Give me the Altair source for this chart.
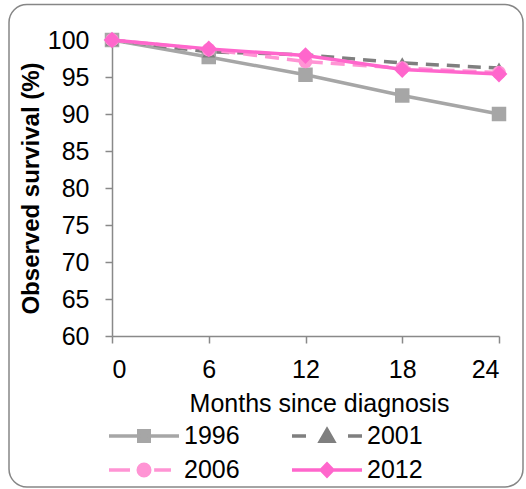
import altair as alt
import pandas as pd

# ---- data ----
MONTHS = [0, 6, 12, 18, 24]
SERIES = ["1996", "2001", "2006", "2012"]
S1996 = [100, 97.7, 95.3, 92.5, 90.0]
S2001 = [100, 98.4, 98.0, 96.9, 96.2]
S2006 = [100, 98.7, 97.1, 96.2, 95.6]
S2012 = [100, 98.8, 97.9, 96.0, 95.4]
Y_TICKS = [60, 65, 70, 75, 80, 85, 90, 95, 100]
X_TICKS = [0, 6, 12, 18, 24]

# ---- styles ----
COLORS = ["#A6A6A6", "#7F7F7F", "#FF94D4", "#FF66CC"]
DASHES = [None, [13, 8], [14, 8], None]
SHAPES = ["square", "triangle-up", "circle", "diamond"]
SIZES = [210, 170, 190, 280]
LEGEND_PATHS = [
    "M-1,0H1M-0.15,-0.15H0.15V0.15H-0.15Z",
    "M-1,0H-0.6M0.6,0H1M0,-0.18L0.19,0.15L-0.19,0.15Z",
    "M-1,0H-0.4M0.29,0H0.77M-0.165,0C-0.165,-0.091,-0.091,-0.165,0,-0.165"
    "C0.091,-0.165,0.165,-0.091,0.165,0C0.165,0.091,0.091,0.165,0,0.165"
    "C-0.091,0.165,-0.165,0.091,-0.165,0Z",
    "M-1,0H1M0,-0.17L0.165,0L0,0.17L-0.165,0Z",
]
FONT = "Liberation Sans"

values = {"1996": S1996, "2001": S2001, "2006": S2006, "2012": S2012}
df = pd.DataFrame(
    [{"series": s, "month": m, "value": v}
     for s in SERIES for m, v in zip(MONTHS, values[s])]
)

x = alt.X("month:Q",
          scale=alt.Scale(domain=[0, 24], nice=False, zero=False),
          axis=alt.Axis(values=X_TICKS, title="Months since diagnosis",
                        titleFontWeight="normal", titleFontSize=25,
                        titlePadding=9, titleX=207, labelPadding=14))
y = alt.Y("value:Q",
          scale=alt.Scale(domain=[60, 100], nice=False, zero=False),
          axis=alt.Axis(values=Y_TICKS, title="Observed survival (%)",
                        titleFontWeight="bold", titleFontSize=24,
                        titlePadding=4, labelPadding=16))

layers = []
for s, c, d, sh, sz in zip(SERIES, COLORS, DASHES, SHAPES, SIZES):
    sub = alt.Chart(df).transform_filter(alt.datum.series == s)
    line_kw = dict(color=c, strokeWidth=3.5)
    if d:
        line_kw["strokeDash"] = d
    layers.append(sub.mark_line(**line_kw).encode(x=x, y=y))
    layers.append(sub.mark_point(shape=sh, size=sz, filled=True, color=c,
                                 opacity=1).encode(x=x, y=y))

leg = alt.Legend(
    title=None, orient="none", legendX=-5, legendY=383, columns=2,
    direction="horizontal",
    symbolSize=4900, symbolStrokeWidth=3.5, symbolOpacity=1, symbolOffset=0,
    labelFontSize=25, labelFont=FONT, labelColor="black", labelOffset=3,
    clipHeight=26, rowPadding=8, columnPadding=50, padding=0,
)
legend_layer = alt.Chart(df).transform_filter("false").mark_point(
    filled=True, opacity=1, strokeWidth=3.5
).encode(
    x=x, y=y,
    color=alt.Color("series:N", scale=alt.Scale(domain=SERIES, range=COLORS), legend=leg),
    stroke=alt.Stroke("series:N", scale=alt.Scale(domain=SERIES, range=COLORS), legend=leg),
    shape=alt.Shape("series:N", scale=alt.Scale(domain=SERIES, range=LEGEND_PATHS), legend=leg),
)

frame = alt.Chart(alt.Data(values=[{}])).mark_rect(
    fill="transparent", stroke="#868686", strokeWidth=1.5, cornerRadius=18
).encode(
    x=alt.value(-103), x2=alt.value(411),
    y=alt.value(-35.5), y2=alt.value(447),
)

chart = alt.layer(frame, *layers, legend_layer).properties(
    width=387, height=296,
    autosize=alt.AutoSizeParams(type="none"),
    padding={"left": 112, "top": 40, "right": 27, "bottom": 153},
).configure_view(stroke=None).configure_axis(
    grid=False, domainColor="#898989", domainWidth=1.5,
    tickColor="#898989", tickWidth=1.5, tickSize=7,
    labelFont=FONT, labelFontSize=25, labelColor="black",
    titleFont=FONT, titleColor="black",
).configure_legend(labelFont=FONT)

chart.save("out.html", embed_options={"renderer": "svg", "actions": False})
